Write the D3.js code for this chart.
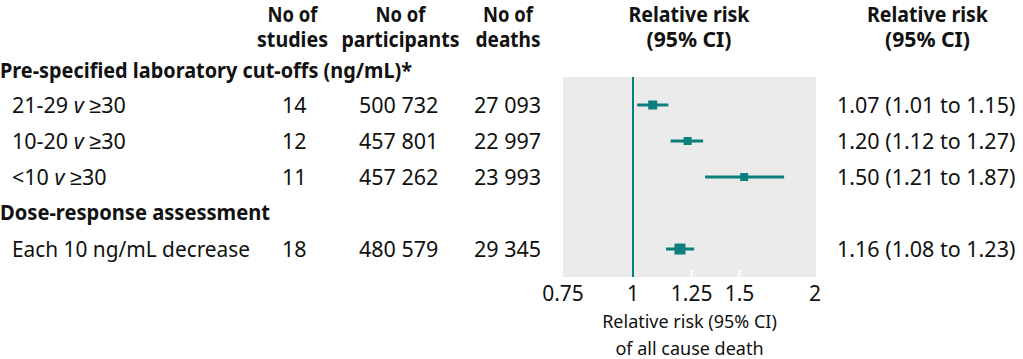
<!DOCTYPE html>
<html><head><meta charset="utf-8">
<script src="https://cdn.jsdelivr.net/npm/d3@7"></script>
<style>
html,body{margin:0;padding:0;background:#fff;}
svg text{font-family:"Noto Sans",sans-serif;fill:#111;}
</style></head>
<body>
<script>
// ---- data ----
const sectionHeaders = ["Pre-specified laboratory cut-offs (ng/mL)*", "Dose-response assessment"];
const rowLabels = ["21-29 v ≥30", "10-20 v ≥30", "<10 v ≥30", "Each 10 ng/mL decrease"];
const rowSection = [0, 0, 0, 1];
const studies = ["14", "12", "11", "18"];
const participants = ["500 732", "457 801", "457 262", "480 579"];
const deaths = ["27 093", "22 997", "23 993", "29 345"];
const rrText = ["1.07 (1.01 to 1.15)", "1.20 (1.12 to 1.27)", "1.50 (1.21 to 1.87)", "1.16 (1.08 to 1.23)"];
// plotted values
const estimate = [1.078, 1.231, 1.527, 1.196];
const lower = [1.016, 1.154, 1.316, 1.134];
const upper = [1.144, 1.306, 1.778, 1.262];
const weight = [9, 8, 8, 11];
const tickValues = [0.75, 1, 1.25, 1.5, 2];
const colHeaders = [["No of", "studies"], ["No of", "participants"], ["No of", "deaths"], ["Relative risk", "(95% CI)"], ["Relative risk", "(95% CI)"]];
const axisTitle = ["Relative risk (95% CI)", "of all cause death"];

// ---- layout ----
const W = 1023, H = 359;
const teal = "#0b7f7b";
const svg = d3.select("body").append("svg").attr("width", W).attr("height", H);

const x = d3.scaleLog().domain([0.766, 2]).range([563, 815]).clamp(true);
const panelTop = 77, panelBottom = 277;

const order = [];
sectionHeaders.forEach((h, s) => {
  order.push({type: "h", s});
  rowLabels.forEach((l, i) => { if (rowSection[i] === s) order.push({type: "r", i}); });
});
const y = d3.scaleLinear().domain([0, order.length - 1]).range([69, 249]);
const rowY = [];
order.forEach((o, k) => { if (o.type === "r") rowY[o.i] = y(k); });

const fs = 21.5, off = 7.5;

// widths of the bold headings in the reference typeface
const colHeaderLen = [[50, 71], [50, 118], [50, 65], [121, 85], [121, 85]];
const sectionLen = [412, 270];

// column headers
const colX = [292.5, 400.5, 508, 689, 927.5];
colHeaders.forEach((h, c) => {
  h.forEach((t, l) => {
    svg.append("text").attr("x", colX[c]).attr("y", 22 + l * 25)
      .attr("text-anchor", "middle").attr("font-weight", "bold").attr("font-size", 21)
      .attr("textLength", colHeaderLen[c][l]).attr("lengthAdjust", "spacingAndGlyphs").text(t);
  });
});

// section headers
order.forEach((o, k) => {
  if (o.type === "h") {
    svg.append("text").attr("x", 0).attr("y", y(k) + (k === 0 ? 9 : 7)).attr("font-weight", "bold")
      .attr("font-size", fs).attr("textLength", sectionLen[o.s]).attr("lengthAdjust", "spacingAndGlyphs")
      .text(sectionHeaders[o.s]);
  }
});

// row labels
rowLabels.forEach((l, i) => {
  const t = svg.append("text").attr("x", 12).attr("y", rowY[i] + off).attr("font-size", fs);
  const parts = l.split(" v ");
  if (parts.length === 2) {
    t.append("tspan").text(parts[0] + " ");
    t.append("tspan").attr("font-style", "italic").text("v");
    t.append("tspan").text(" " + parts[1]);
  } else t.attr("textLength", 238).attr("lengthAdjust", "spacingAndGlyphs").text(l);
});
const cols = [[studies, 282], [participants, 359], [deaths, 474], [rrText, 837]];
cols.forEach(([arr, cx]) => {
  arr.forEach((v, i) => {
    svg.append("text").attr("x", cx).attr("y", rowY[i] + off).attr("font-size", fs).text(v);
  });
});

// panel
svg.append("rect").attr("x", 563).attr("y", panelTop).attr("width", 816 - 563)
  .attr("height", panelBottom - panelTop).attr("fill", "#ebebeb");
// white inner ticks
svg.selectAll(".wt").data(tickValues.filter(v => x(v) > 564 && x(v) < 814)).enter().append("line")
  .attr("x1", d => x(d)).attr("x2", d => x(d)).attr("y1", panelBottom - 7).attr("y2", panelBottom)
  .attr("stroke", "#fff").attr("stroke-width", 2);
// reference line
svg.append("line").attr("x1", x(1)).attr("x2", x(1)).attr("y1", panelTop).attr("y2", panelBottom)
  .attr("stroke", teal).attr("stroke-width", 2);

// CIs
const g = svg.append("g");
estimate.forEach((e, i) => {
  g.append("line").attr("x1", x(lower[i])).attr("x2", x(upper[i]))
    .attr("y1", rowY[i]).attr("y2", rowY[i]).attr("stroke", teal).attr("stroke-width", 3);
  const s = weight[i];
  g.append("rect").attr("x", x(e) - s / 2).attr("y", rowY[i] - s / 2)
    .attr("width", s).attr("height", s).attr("fill", teal);
});

// tick labels
svg.selectAll(".tl").data(tickValues).enter().append("text")
  .attr("x", d => x(d)).attr("y", 301).attr("text-anchor", "middle").attr("font-size", 21)
  .text(d => d3.format("")(d));

// axis title
axisTitle.forEach((t, l) => {
  svg.append("text").attr("x", (563 + 816) / 2).attr("y", 328 + l * 27)
    .attr("text-anchor", "middle").attr("font-size", 18).text(t);
});
</script>
</body></html>
